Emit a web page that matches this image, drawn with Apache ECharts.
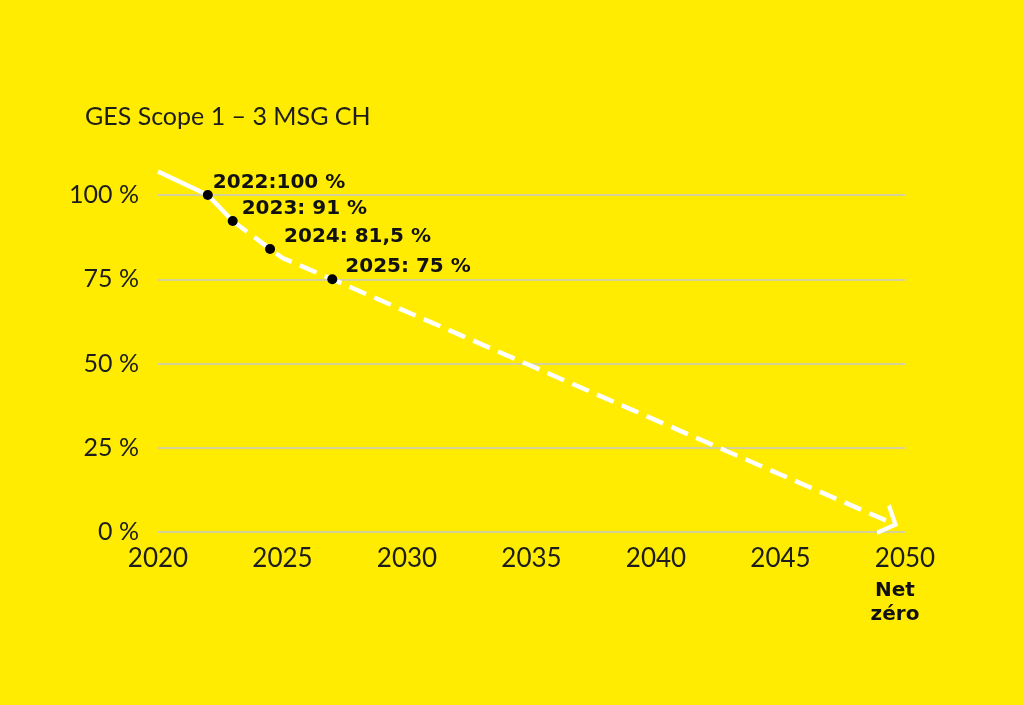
<!DOCTYPE html>
<html>
<head>
<meta charset="utf-8">
<script src="https://cdn.jsdelivr.net/npm/echarts@6/dist/echarts.min.js"></script>
<style>
  html, body { margin: 0; padding: 0; background: #ffec00; }
  #chart { width: 1024px; height: 705px; }
</style>
</head>
<body>
<div id="chart"></div>
<script>
// trajectoire GES (en % de 2022)
const solidYears = [2020, 2022, 2023];
const solidValues = [107, 100, 92.3];
const dashYears = [2023, 2024.5, 2025, 2027, 2049.4];
const dashValues = [92.3, 84, 81.3, 75, 2.9];

// points marqués
const pointYears = [2022, 2023, 2024.5, 2027];
const pointValues = [100, 92.3, 84, 75];
const pointLabels = ['2022:100 %', '2023: 91 %', '2024: 81,5 %', '2025: 75 %'];

// axes
const xTicks = [2020, 2025, 2030, 2035, 2040, 2045, 2050];
const yTicks = [0, 25, 50, 75, 100];
const endLabel = ['Net', 'zéro'];

// écart des étiquettes (style)
const labelGap = [0, 4, 9, 8];

const chartDom = document.getElementById('chart');
const myChart = echarts.init(chartDom);

const arrowPath = 'path://M24.4,16.9 L3.1,0 L0,3.9 L16.3,16.9 L0,29.8 L3.1,33.7 Z';
const last = dashYears.length - 1;

const boldText = {
  fontFamily: 'DejaVu Sans',
  fontWeight: 'bold',
  fontSize: 20,
  color: '#111'
};

const option = {
  animation: false,
  backgroundColor: '#ffec00',
  title: {
    text: 'GES Scope 1 – 3 MSG CH',
    left: 85,
    top: 101,
    padding: 0,
    textStyle: {
      fontFamily: 'Lato',
      fontSize: 25,
      fontWeight: 'normal',
      lineHeight: 32,
      color: '#1d1d1b'
    }
  },
  grid: {
    left: 158,
    right: 119,
    top: 195,
    bottom: 173
  },
  xAxis: {
    type: 'value',
    min: xTicks[0],
    max: xTicks[xTicks.length - 1],
    interval: xTicks[1] - xTicks[0],
    axisLine: { show: false },
    axisTick: { show: false },
    splitLine: { show: false },
    axisLabel: {
      margin: 11,
      fontFamily: 'Lato',
      fontSize: 26,
      lineHeight: 32,
      color: '#1d1d1b',
      formatter: function (v) {
        if (v === xTicks[xTicks.length - 1]) {
          return v + '\n{n1|' + endLabel[0] + '}\n{n2|' + endLabel[1] + '}';
        }
        return String(v);
      },
      rich: {
        n1: Object.assign({}, boldText, { lineHeight: 32, padding: [0, 20, 0, 0] }),
        n2: Object.assign({}, boldText, { lineHeight: 16, padding: [0, 20, 0, 0] })
      }
    }
  },
  yAxis: {
    type: 'value',
    min: yTicks[0],
    max: yTicks[yTicks.length - 1],
    interval: yTicks[1] - yTicks[0],
    axisLine: { show: false },
    axisTick: { show: false },
    splitLine: {
      lineStyle: { color: '#c8c8c8', width: 1.5 }
    },
    axisLabel: {
      margin: 19,
      fontFamily: 'Lato',
      fontSize: 25,
      color: '#1d1d1b',
      formatter: '{value} %'
    }
  },
  series: [
    {
      type: 'line',
      z: 2,
      clip: false,
      symbol: 'none',
      lineStyle: { color: '#fff', width: 4.5 },
      data: solidYears.map((x, i) => [x, solidValues[i]])
    },
    {
      type: 'line',
      z: 2,
      clip: false,
      symbol: 'none',
      symbolKeepAspect: true,
      lineStyle: { color: '#fff', width: 4.5, type: [18, 9] },
      itemStyle: { color: '#fff' },
      data: dashYears.map((x, i) => i === last
        ? { value: [x, dashValues[i]], symbol: arrowPath, symbolSize: [24.4, 33.7], symbolRotate: -23.5 }
        : [x, dashValues[i]])
    },
    {
      type: 'scatter',
      z: 5,
      symbolSize: 10,
      itemStyle: { color: '#000', opacity: 1 },
      label: Object.assign({
        show: true,
        position: 'right',
        offset: [0, -12.5],
        formatter: p => pointLabels[p.dataIndex]
      }, boldText),
      data: pointYears.map((x, i) => ({
        value: [x, pointValues[i]],
        label: { distance: labelGap[i] }
      }))
    }
  ]
};

option && myChart.setOption(option);
</script>
</body>
</html>
